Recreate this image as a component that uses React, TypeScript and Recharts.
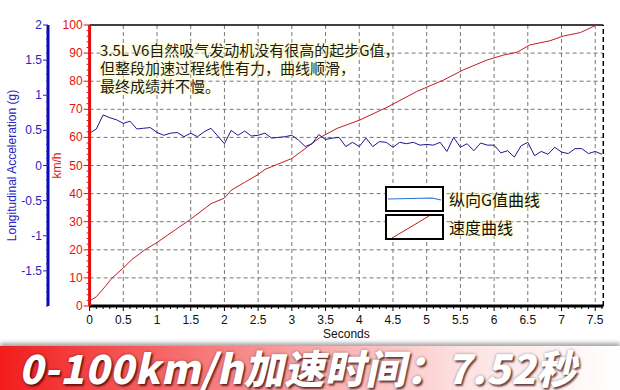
import { LineChart, Line, XAxis, YAxis, CartesianGrid, ReferenceLine, Legend } from 'recharts';

// seconds axis
const xMajorTicks = [0, 0.5, 1, 1.5, 2, 2.5, 3, 3.5, 4, 4.5, 5, 5.5, 6, 6.5, 7, 7.5];
const xGridValues = [0.5, 1, 1.5, 2, 2.5, 3, 3.5, 4, 4.5, 5, 5.5, 6, 6.5, 7, 7.5];
// km/h axis
const kmhTicks = [0, 10, 20, 30, 40, 50, 60, 70, 80, 90, 100];
const kmhGridValues = [10, 20, 30, 40, 50, 60, 70, 80, 90];
// g axis (bottom -2 has no label)
const gTicks = [-1.5, -1, -0.5, 0, 0.5, 1, 1.5, 2];

// longitudinal acceleration (g), one sample every 0.1 s
const gSamples = [
  0.46, 0.52, 0.72, 0.68, 0.65, 0.6, 0.63, 0.52, 0.53, 0.54,
  0.47, 0.43, 0.46, 0.47, 0.41, 0.46, 0.41, 0.48, 0.53, 0.42,
  0.31, 0.5, 0.43, 0.49, 0.42, 0.43, 0.46, 0.39, 0.4, 0.41,
  0.43, 0.36, 0.27, 0.31, 0.44, 0.37, 0.39, 0.4, 0.27, 0.33,
  0.27, 0.39, 0.27, 0.34, 0.33, 0.26, 0.33, 0.31, 0.33, 0.29,
  0.3, 0.29, 0.33, 0.2, 0.4, 0.26, 0.31, 0.21, 0.32, 0.29,
  0.29, 0.18, 0.21, 0.12, 0.28, 0.33, 0.14, 0.2, 0.16, 0.26,
  0.19, 0.17, 0.24, 0.24, 0.17, 0.2, 0.16,
];

// speed curve
const speedTimes = [
  0, 0.1, 0.23, 0.33, 0.5, 0.62, 0.82, 1.0, 1.27, 1.5, 1.8, 2.0, 2.1, 2.3, 2.5, 2.6,
  3.0, 3.23, 3.42, 3.67, 4.01, 4.41, 4.85, 5.25, 5.54, 5.89, 6.14, 6.34, 6.53, 6.83,
  7.03, 7.28, 7.52,
];
const speedValues = [
  1.8, 3.3, 6.9, 9.9, 13.5, 16.4, 20, 22.6, 27.1, 30.9, 36.4, 38.4, 41.2, 44, 46.8, 48.6,
  52.5, 56.6, 60, 63.2, 66.2, 70.7, 76.3, 80.4, 84, 87.5, 89.3, 90.3, 92.9, 94.4,
  96.1, 97.3, 100,
];

const gData = gSamples.map((g, i) => ({ t: Math.round(i * 10) / 100, g }));
const speedData = speedTimes.map((t, i) => ({ t, v: speedValues[i] }));

const steps = (from: number, to: number, step: number) => {
  const out: number[] = [];
  for (let v = from; v <= to + 1e-9; v += step) out.push(Math.round(v * 1000) / 1000);
  return out;
};
const xTicks = steps(0, 7.6, 0.1);
const kmhMinor = steps(0, 100, 2);
const gMinor = steps(-2, 2, 0.1);

const TICK_FONT = 'Tahoma, "Liberation Sans", Arial, sans-serif';
const CJK_FONT = '"Noto Sans CJK SC", "Microsoft YaHei", sans-serif';
const RED = '#e60f0f';
const BLUE = '#2424c4';

const isOn = (v: number, list: number[]) => list.some((m) => Math.abs(m - v) < 1e-6);

function XTick({ x, y, payload }: any) {
  const v = payload.value;
  const major = isOn(v, xMajorTicks);
  return (
    <g>
      <line x1={x} x2={x} y1={y} y2={y + (major ? 5 : 3)} stroke="#000" />
      {major && (
        <text x={x} y={y + 18} textAnchor="middle" fontSize={12} fontFamily={TICK_FONT} fill="#111">
          {v}
        </text>
      )}
    </g>
  );
}

function KmhTick({ x, y, payload }: any) {
  const v = payload.value;
  const major = isOn(v, kmhTicks);
  return (
    <g>
      <line x1={x - (major ? 6 : 3)} x2={x} y1={y} y2={y} stroke={RED} />
      {major && (
        <text x={x - 7} y={y + 4} textAnchor="end" fontSize={12} fontFamily={TICK_FONT} fill={RED}>
          {v}
        </text>
      )}
    </g>
  );
}

function GTick({ x, y, payload }: any) {
  const v = payload.value;
  const major = isOn(v, gTicks);
  return (
    <g>
      <line x1={x - (major ? 5 : 2)} x2={x} y1={y} y2={y} stroke={BLUE} />
      {major && (
        <text x={x - 6} y={y + 4} textAnchor="end" fontSize={12} fontFamily={TICK_FONT} fill={BLUE}>
          {v}
        </text>
      )}
    </g>
  );
}

function GTitle({ viewBox }: any) {
  const cx = viewBox.x + 12;
  const cy = viewBox.y + viewBox.height / 2;
  return (
    <text x={cx} y={cy + 4} transform={`rotate(-90 ${cx} ${cy})`} textAnchor="middle" fontSize={12} fontFamily={TICK_FONT} fill={BLUE}>
      Longitudinal Acceleration (g)
    </text>
  );
}

function KmhTitle({ viewBox }: any) {
  const cx = viewBox.x + 9;
  const cy = viewBox.y + viewBox.height / 2;
  return (
    <text x={cx} y={cy + 4} transform={`rotate(-90 ${cx} ${cy})`} textAnchor="middle" fontSize={12} fontFamily={TICK_FONT} fill={RED}>
      km/h
    </text>
  );
}

const glow = '0 0 3px #fffbc8, 0 0 4px #fffbc8, 0 0 6px #fff7b0';

function LegendBoxes() {
  const box = { width: 55, height: 22, border: '2px solid #000', background: '#fff' };
  const label = { fontFamily: CJK_FONT, fontSize: 16, color: '#111', textShadow: glow, marginLeft: 5 };
  return (
    <div style={{ display: 'flex', flexDirection: 'column', gap: 2 }}>
      <div style={{ display: 'flex', alignItems: 'center' }}>
        <div style={box}>
          <svg width={55} height={22}>
            <polyline points="1,11 45,10 54,12" fill="none" stroke="#2a6fd6" strokeWidth={1.2} />
          </svg>
        </div>
        <span style={label}>纵向G值曲线</span>
      </div>
      <div style={{ display: 'flex', alignItems: 'center' }}>
        <div style={box}>
          <svg width={55} height={22}>
            <polyline points="5,22 22,12 42,0" fill="none" stroke="#c41a1a" strokeWidth={1} />
          </svg>
        </div>
        <span style={label}>速度曲线</span>
      </div>
    </div>
  );
}

export default function App() {
  return (
    <div style={{ position: 'absolute', left: 0, top: 0, width: 620, height: 390, background: '#fff', overflow: 'hidden' }}>
      <LineChart width={620} height={342} margin={{ top: 25, right: 16.7, bottom: 2, left: 0 }}>
        <CartesianGrid
          yAxisId="kmh"
          stroke="#777"
          strokeDasharray="4 3"
          horizontalValues={kmhGridValues}
          verticalValues={xGridValues}
        />
        <XAxis
          dataKey="t"
          type="number"
          domain={[0, 7.62]}
          allowDataOverflow
          ticks={xTicks}
          interval={0}
          height={34}
          tickSize={0}
          tickMargin={0}
          tick={<XTick />}
          axisLine={{ stroke: '#000', strokeWidth: 3 }}
          label={{ value: 'Seconds', position: 'insideBottom', offset: 2, fontSize: 12, fontFamily: TICK_FONT, fill: '#111' }}
        />
        {/* inner axis: km/h, outer axis: g */}
        <YAxis
          yAxisId="kmh"
          type="number"
          domain={[0, 100]}
          ticks={kmhMinor}
          interval={0}
          width={41.6}
          tickSize={0}
          tickMargin={0}
          tick={<KmhTick />}
          axisLine={{ stroke: RED, strokeWidth: 3 }}
          label={{ content: KmhTitle }}
        />
        <YAxis
          yAxisId="lng"
          type="number"
          domain={[-2, 2]}
          ticks={gMinor}
          interval={0}
          width={48}
          tickSize={0}
          tickMargin={0}
          tick={<GTick />}
          axisLine={{ stroke: '#0a0ab4', strokeWidth: 3 }}
          label={{ content: GTitle }}
        />
        <ReferenceLine yAxisId="kmh" y={100} stroke="#000" strokeWidth={1.5} />
        <ReferenceLine yAxisId="kmh" x={7.62} stroke="#000" strokeDasharray="5 3" strokeWidth={1.5} />
        <Line
          yAxisId="kmh"
          data={speedData}
          dataKey="v"
          type="linear"
          stroke="#c41a24"
          strokeWidth={1}
          dot={false}
          isAnimationActive={false}
        />
        <Line
          yAxisId="lng"
          data={gData}
          dataKey="g"
          type="linear"
          stroke="#1a1a8c"
          strokeWidth={1}
          dot={false}
          isAnimationActive={false}
        />
        <Legend
          layout="horizontal"
          verticalAlign="middle"
          align="center"
          content={LegendBoxes}
          wrapperStyle={{ position: 'absolute', left: 385, top: 186, width: 'auto' }}
        />
      </LineChart>

      <div
        style={{
          position: 'absolute',
          left: 100,
          top: 41,
          fontFamily: CJK_FONT,
          fontSize: 15,
          lineHeight: '18px',
          color: '#1a1a1a',
          textShadow: glow,
          whiteSpace: 'nowrap',
        }}
      >
        <div>3.5L V6自然吸气发动机没有很高的起步G值，</div>
        <div>但整段加速过程线性有力，曲线顺滑，</div>
        <div>最终成绩并不慢。</div>
      </div>

      <div
        style={{
          position: 'absolute',
          left: 0,
          top: 346,
          width: 620,
          height: 44,
          background: 'linear-gradient(to right, #f21c1c 0%, #f55a5a 22%, #f9a8a8 50%, #fde2e2 75%, #ffffff 100%)',
          boxShadow: '0 -3px 4px rgba(0,0,0,0.35)',
        }}
      >
        <div
          style={{
            position: 'absolute',
            left: 18,
            top: -1,
            fontFamily: CJK_FONT,
            fontWeight: 900,
            fontSize: 40,
            letterSpacing: 0.6,
            lineHeight: '44px',
            color: '#fff',
            transform: 'skewX(-12deg)',
            transformOrigin: 'left bottom',
            textShadow: '2px 2px 2px rgba(60,0,0,0.7), 0 0 3px rgba(0,0,0,0.4)',
            whiteSpace: 'nowrap',
          }}
        >
          0-100km/h加速时间：7.52秒
        </div>
      </div>
    </div>
  );
}
